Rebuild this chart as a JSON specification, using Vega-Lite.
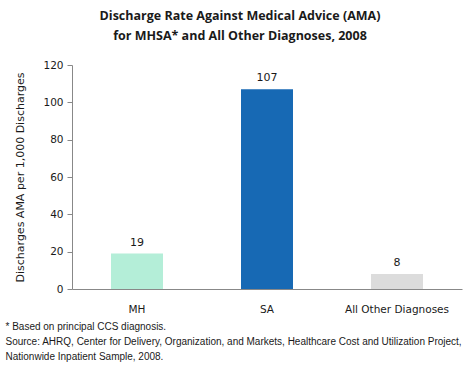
{
  "$schema": "https://vega.github.io/schema/vega-lite/v6.json",
  "width": 390,
  "height": 224,
  "autosize": {"type": "none"},
  "padding": {"left": 72, "top": 65, "right": 14, "bottom": 81},
  "background": "white",
  "config": {"view": {"stroke": null}, "font": "Liberation Sans"},
  "title": {
    "text": ["Discharge Rate Against Medical Advice (AMA)", "for MHSA* and All Other Diagnoses, 2008"],
    "fontSize": 12.5,
    "fontWeight": "bold",
    "font": "Open Sans",
    "color": "#1a1a1a",
    "anchor": "middle",
    "dx": -27,
    "offset": 18,
    "lineHeight": 20
  },
  "data": {
    "values": [
      {"category": "MH", "rate": 19},
      {"category": "SA", "rate": 107},
      {"category": "All Other Diagnoses", "rate": 8}
    ]
  },
  "encoding": {
    "x": {
      "field": "category",
      "type": "nominal",
      "sort": null,
      "scale": {"paddingInner": 0.6, "paddingOuter": 0.3},
      "axis": {
        "labelAngle": 0,
        "labelFontSize": 10.5,
        "labelFont": "DejaVu Sans",
        "labelColor": "#1a1a1a",
        "labelPadding": 15,
        "ticks": false,
        "domainColor": "#888888",
        "title": ["* Based on principal CCS diagnosis.", "Source: AHRQ, Center for Delivery, Organization, and Markets, Healthcare Cost and Utilization Project,", "Nationwide Inpatient Sample, 2008."],
        "titleFont": "Liberation Sans",
        "titleFontSize": 10,
        "titleFontWeight": "normal",
        "titleColor": "#1a1a1a",
        "titleAnchor": "start",
        "titleAlign": "left",
        "titleBaseline": "top",
        "titleX": -67,
        "titleY": 32,
        "titleLineHeight": 15
      }
    },
    "y": {
      "field": "rate",
      "type": "quantitative",
      "scale": {"domain": [0, 120]},
      "axis": {
        "values": [0, 20, 40, 60, 80, 100, 120],
        "grid": false,
        "labelFont": "DejaVu Sans",
        "labelFontSize": 10.5,
        "labelColor": "#1a1a1a",
        "tickColor": "#888888",
        "tickSize": 5,
        "domainColor": "#888888",
        "labelPadding": 4,
        "title": "Discharges AMA per 1,000 Discharges",
        "titleFont": "DejaVu Sans",
        "titleFontSize": 11,
        "titleFontWeight": "normal",
        "titleColor": "#1a1a1a",
        "titlePadding": 17
      }
    }
  },
  "layer": [
    {
      "mark": {"type": "bar"},
      "encoding": {
        "color": {
          "field": "category",
          "type": "nominal",
          "scale": {"domain": ["MH", "SA", "All Other Diagnoses"], "range": ["#b4eed8", "#1769b4", "#dcdcdc"]},
          "legend": null
        }
      }
    },
    {
      "mark": {"type": "text", "dy": -11, "font": "DejaVu Sans", "fontSize": 11, "color": "#1a1a1a"},
      "encoding": {"text": {"field": "rate", "type": "quantitative"}}
    }
  ]
}
